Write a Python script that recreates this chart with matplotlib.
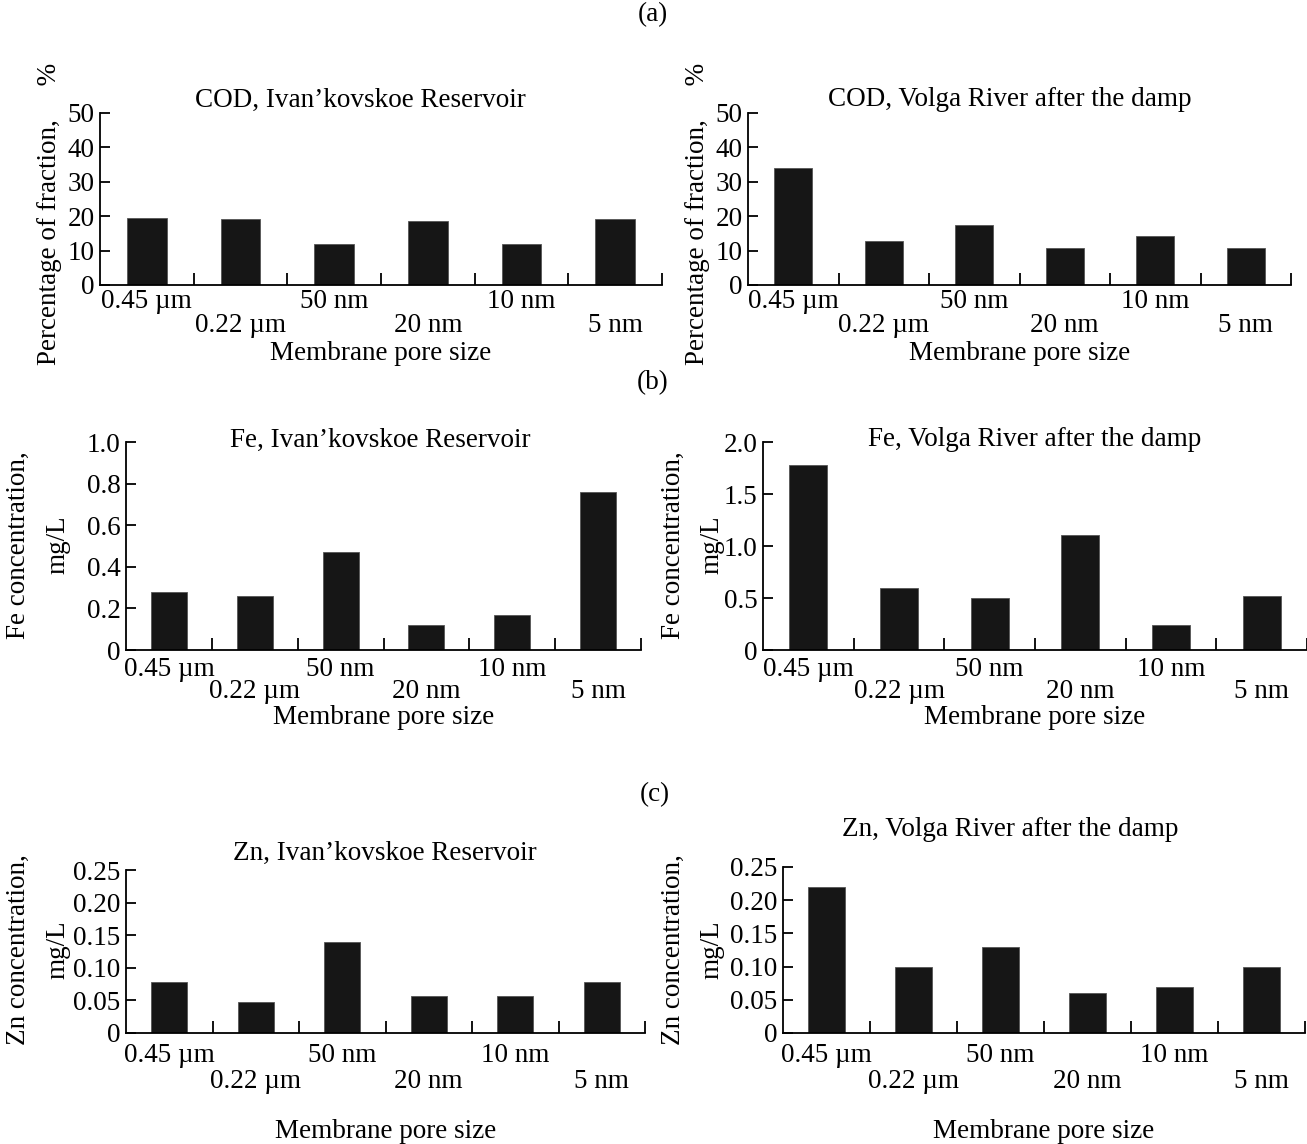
import matplotlib
matplotlib.use("Agg")
import matplotlib.pyplot as plt
from matplotlib.transforms import blended_transform_factory

plt.rcParams['font.family'] = ['Liberation Serif', 'DejaVu Serif']
plt.rcParams['font.size'] = 19.5

# data
pore_sizes = ["0.45 µm", "0.22 µm", "50 nm", "20 nm", "10 nm", "5 nm"]
cod_ivankovskoe = [19.6, 19.3, 11.8, 18.6, 11.8, 19.3]
cod_volga = [34.0, 12.9, 17.5, 10.7, 14.2, 10.7]
fe_ivankovskoe = [0.28, 0.26, 0.47, 0.12, 0.17, 0.76]
fe_volga = [1.78, 0.60, 0.50, 1.11, 0.24, 0.52]
zn_ivankovskoe = [0.078, 0.047, 0.139, 0.057, 0.057, 0.078]
zn_volga = [0.22, 0.10, 0.13, 0.06, 0.07, 0.10]

cod_ticks = [0, 10, 20, 30, 40, 50]
cod_ticklabels = ["0", "10", "20", "30", "40", "50"]
fe_ivan_ticks = [0, 0.2, 0.4, 0.6, 0.8, 1.0]
fe_ivan_ticklabels = ["0", "0.2", "0.4", "0.6", "0.8", "1.0"]
fe_volga_ticks = [0, 0.5, 1.0, 1.5, 2.0]
fe_volga_ticklabels = ["0", "0.5", "1.0", "1.5", "2.0"]
zn_ticks = [0, 0.05, 0.10, 0.15, 0.20, 0.25]
zn_ticklabels = ["0", "0.05", "0.10", "0.15", "0.20", "0.25"]

W, H = 1307, 1144
fig = plt.figure(figsize=(W / 100, H / 100), dpi=100)


def fx(px):
    return px / W


def fy(py):
    return 1 - py / H


def panel(x0, x1, ytop, ybot, values, ticks, ticklabels, title, title_xy,
          ylab_lines, lab_rows):
    ax = fig.add_axes([fx(x0), fy(ybot), fx(x1 - x0), (ybot - ytop) / H])
    n = len(values)
    ax.bar(range(n), values, width=0.42, color='#161616', edgecolor='#555555',
           linewidth=0.6)
    ax.set_xlim(-0.5, n - 0.5)
    ax.set_ylim(ticks[0], ticks[-1])
    ax.set_yticks(ticks, ticklabels)
    ax.set_xticks([i + 0.5 for i in range(n)], [""] * n)
    for s in ['top', 'right']:
        ax.spines[s].set_visible(False)
    for s in ['left', 'bottom']:
        ax.spines[s].set_linewidth(1.3)
    ax.tick_params(axis='y', direction='in', length=7, width=1.3, pad=4)
    ax.tick_params(axis='x', direction='in', length=9, width=1.3)

    # staggered category labels
    tr = blended_transform_factory(ax.transData, fig.transFigure)
    for i, lab in enumerate(pore_sizes):
        yy = lab_rows[0] if i % 2 == 0 else lab_rows[1]
        ax.text(i, fy(yy), lab, transform=tr, ha='center', va='center')
    fig.text(fx((x0 + x1) / 2), fy(lab_rows[2]), "Membrane pore size",
             ha='center', va='center')
    fig.text(fx(title_xy[0]), fy(title_xy[1]), title, ha='center', va='center')
    for (lx, ly, txt) in ylab_lines:
        fig.text(fx(lx), fy(ly), txt, rotation=90, ha='center', va='center')
    return ax


# row (a)
fig.text(fx(653), fy(15), "(a)", ha='center', va='center')
panel(100, 662, 113, 285, cod_ivankovskoe, cod_ticks, cod_ticklabels,
      "COD, Ivan’kovskoe Reservoir", (360, 100),
      [(50, 214, "Percentage of fraction,     %")], (302, 325, 353))
panel(748, 1291, 113, 285, cod_volga, cod_ticks, cod_ticklabels,
      "COD, Volga River after the damp", (1010, 100),
      [(698, 214, "Percentage of fraction,     %")], (302, 325, 353))

# row (b)
fig.text(fx(653), fy(383), "(b)", ha='center', va='center')
panel(126, 641, 442, 650, fe_ivankovskoe, fe_ivan_ticks, fe_ivan_ticklabels,
      "Fe, Ivan’kovskoe Reservoir", (380, 440),
      [(18, 545, "Fe concentration,"), (58, 545, "mg/L")], (670, 692, 718))
panel(763, 1307, 442, 650, fe_volga, fe_volga_ticks, fe_volga_ticklabels,
      "Fe, Volga River after the damp", (1035, 440),
      [(673, 545, "Fe concentration,"), (712, 545, "mg/L")], (670, 692, 718))

# row (c)
fig.text(fx(655), fy(795), "(c)", ha='center', va='center')
panel(126, 645, 870, 1033, zn_ivankovskoe, zn_ticks, zn_ticklabels,
      "Zn, Ivan’kovskoe Reservoir", (385, 853),
      [(18, 950, "Zn concentration,"), (58, 950, "mg/L")], (1056, 1082, 1132))
panel(783, 1305, 867, 1033, zn_volga, zn_ticks, zn_ticklabels,
      "Zn, Volga River after the damp", (1010, 830),
      [(673, 950, "Zn concentration,"), (712, 950, "mg/L")], (1056, 1082, 1132))

fig.savefig("out.png", dpi=100)
